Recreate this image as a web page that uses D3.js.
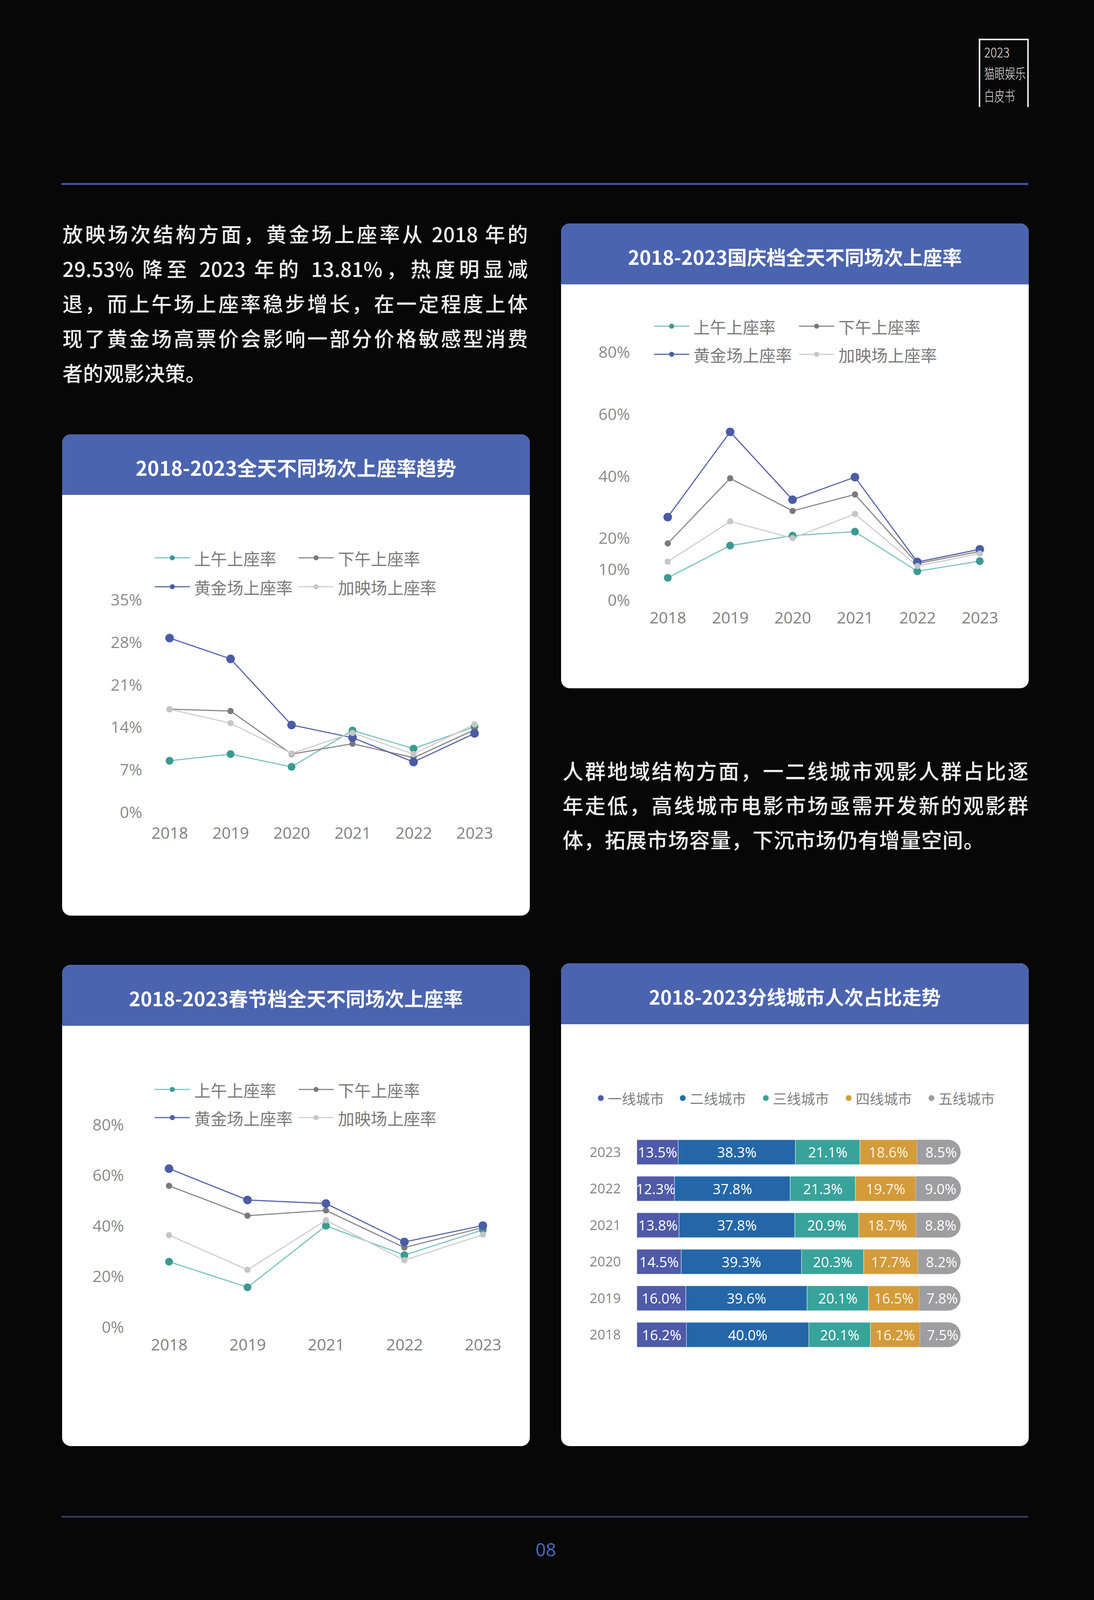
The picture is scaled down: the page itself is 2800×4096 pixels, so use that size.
<!DOCTYPE html>
<html><head><meta charset="utf-8">
<script src="https://cdn.jsdelivr.net/npm/d3@7/dist/d3.min.js"></script>
<style>
html,body{margin:0;padding:0;background:#070707;}
body{position:relative;width:2800px;height:4096px;overflow:hidden;}
svg{display:block;position:absolute;left:0;top:0;}
.pl{position:absolute;color:#efefef;font-family:'Noto Sans CJK SC','Noto Sans',sans-serif;font-weight:500;white-space:normal;line-height:60px;height:60px;}
.pl.j{text-align:justify;text-align-last:justify;text-justify:inter-character;}
</style></head>
<body>
<script>
// ---------- DATA ----------
const seriesNames = ["上午上座率","下午上座率","黄金场上座率","加映场上座率"];

const allDayYears = ["2018","2019","2020","2021","2022","2023"];
const allDayMorning   = [9.3, 10.4, 8.3, 14.3, 11.3, 14.9];
const allDayAfternoon = [17.8, 17.5, 10.4, 12.1, 9.8, 14.4];
const allDayGolden    = [29.53, 26.1, 15.2, 13.1, 9.1, 13.81];
const allDayExtra     = [17.8, 15.5, 10.5, 13.9, 10.4, 15.3];
const allDayTicks = [0, 7, 14, 21, 28, 35];

const nationalYears = ["2018","2019","2020","2021","2022","2023"];
const nationalMorning   = [8.8, 19.2, 22.4, 23.7, 10.9, 14.2];
const nationalAfternoon = [19.9, 40.9, 30.4, 35.7, 13.4, 17.3];
const nationalGolden    = [28.4, 55.9, 34.0, 41.3, 13.9, 18.0];
const nationalExtra     = [14.0, 27.0, 21.6, 29.4, 12.6, 16.6];
const nationalTicks = [0, 10, 20, 40, 60, 80];

const springYears = ["2018","2019","2021","2022","2023"];
const springMorning   = [27.8, 17.7, 42.0, 30.4, 40.4];
const springAfternoon = [57.8, 46.0, 48.1, 33.4, 41.3];
const springGolden    = [64.6, 52.2, 50.8, 35.6, 42.1];
const springExtra     = [38.3, 24.6, 44.2, 28.4, 38.5];
const springTicks = [0, 20, 40, 60, 80];

const tierNames = ["一线城市","二线城市","三线城市","四线城市","五线城市"];
const tierYears = ["2023","2022","2021","2020","2019","2018"];
const tier1 = [13.5, 12.3, 13.8, 14.5, 16.0, 16.2];
const tier2 = [38.3, 37.8, 37.8, 39.3, 39.6, 40.0];
const tier3 = [21.1, 21.3, 20.9, 20.3, 20.1, 20.1];
const tier4 = [18.6, 19.7, 18.7, 17.7, 16.5, 16.2];
const tier5 = [8.5, 9.0, 8.8, 8.2, 7.8, 7.5];

const titles = ["2018-2023全天不同场次上座率趋势","2018-2023国庆档全天不同场次上座率","2018-2023春节档全天不同场次上座率","2018-2023分线城市人次占比走势"];
const para1 = ["放映场次结构方面，黄金场上座率从 2018 年的","29.53% 降至 2023 年的 13.81%，热度明显减","退，而上午场上座率稳步增长，在一定程度上体","现了黄金场高票价会影响一部分价格敏感型消费","者的观影决策。"];
const para2 = ["人群地域结构方面，一二线城市观影人群占比逐","年走低，高线城市电影市场亟需开发新的观影群","体，拓展市场容量，下沉市场仍有增量空间。"];
const logoLines = ["2023","猫眼娱乐","白皮书"];
const pageNumber = "08";

// ---------- STYLE ----------
const W = 2800, H = 4096;
const CJK = "'Noto Sans CJK SC','Noto Sans',sans-serif";
const NUM = "'Open Sans','Noto Sans CJK SC',sans-serif";
const headerBlue = "#4b64af";
const seriesLine = ["#7cc4bf","#8a8a8a","#5a66aa","#cfcfcf"];
const seriesDot  = ["#3a9a92","#7a7a7a","#4a5ca8","#c6c6c6"];
const seriesR    = [10, 8, 11, 8];
const tierColors = ["#4f5aa8","#2467a8","#38a39b","#d39b3a","#9e9ea0"];

const svg = d3.select("body").append("svg").attr("width", W).attr("height", H);
svg.append("rect").attr("width", W).attr("height", H).attr("fill", "#070707");

// top & bottom rules
svg.append("line").attr("x1",157).attr("x2",2632).attr("y1",471).attr("y2",471)
  .attr("stroke","#4354a0").attr("stroke-width",5);
svg.append("line").attr("x1",157).attr("x2",2632).attr("y1",3883).attr("y2",3883)
  .attr("stroke","#363f72").attr("stroke-width",4);
svg.append("text").attr("x",1397).attr("y",3966).attr("text-anchor","middle")
  .attr("dominant-baseline","central").attr("fill","#4d6ac0")
  .style("font-family",NUM).style("font-size","46px").text(pageNumber);

// logo
svg.append("path").attr("d","M2507,274 V101 H2631 V274").attr("fill","none")
  .attr("stroke","#e6e6e6").attr("stroke-width",4);
const logoCfg = [{y:131,w:65,fs:35},{y:186,w:106,fs:36},{y:244,w:78,fs:37}];
logoLines.forEach((t,i)=>{
  svg.append("text").attr("x",2519).attr("y",logoCfg[i].y).attr("dominant-baseline","central")
    .attr("textLength",logoCfg[i].w).attr("lengthAdjust","spacingAndGlyphs")
    .attr("fill","#e6e6e6").style("font-family",CJK).style("font-weight",300)
    .style("font-size",logoCfg[i].fs+"px").text(t);
});

// paragraphs (HTML text, each line justified to the column width except the last)
function paragraph(lines, x, yc0, lh, fs, width, ls) {
  lines.forEach((t,i)=>{
    const last = i === lines.length-1;
    d3.select("body").append("div").attr("class", last ? "pl" : "pl j")
      .style("left", x+"px").style("top", (yc0 + i*lh - 33)+"px")
      .style("width", width+"px").style("font-size", fs+"px")
      .style("letter-spacing", last ? ls+"px" : "0px")
      .text(t);
  });
}
paragraph(para1, 160, 601, 89, 52, 1191, 0.5);
paragraph(para2, 1440, 1975, 88, 53, 1192, 1);

// cards
function card(x,y,w,h,hh,title,fs){
  const r = 22;
  svg.append("rect").attr("x",x).attr("y",y).attr("width",w).attr("height",h).attr("rx",r).attr("fill","#ffffff");
  svg.append("path").attr("d",`M${x},${y+hh} V${y+r} A${r},${r} 0 0 1 ${x+r},${y} H${x+w-r} A${r},${r} 0 0 1 ${x+w},${y+r} V${y+hh} Z`)
    .attr("fill",headerBlue);
  svg.append("text").attr("x",x+w/2).attr("y",y+hh/2+6).attr("text-anchor","middle").attr("dominant-baseline","central")
    .attr("fill","#ffffff").style("font-family",CJK).style("font-weight",700).style("font-size",fs+"px").text(title);
}
card(159,1112,1197,1232,155,titles[0],51);
card(1436,572,1197,1190,156,titles[1],50);
card(159,2470,1197,1232,156,titles[2],50);
card(1436,2466,1197,1236,156,titles[3],49.5);

// line charts
function lineChart(cfg){
  const g = svg.append("g");
  const x = d3.scalePoint().domain(cfg.years).range(cfg.xRange);
  const y = d3.scaleLinear().domain([0,cfg.yMax]).range([cfg.y0,cfg.yTop]);

  const ya = g.append("g").attr("transform",`translate(${cfg.labelRight},0)`)
    .call(d3.axisLeft(y).tickValues(cfg.ticks).tickSize(0).tickPadding(0).tickFormat(d=>d+"%"));
  ya.select(".domain").remove();
  ya.selectAll("text").attr("y",-13).attr("dy","0.35em").attr("fill","#8a8a8a")
    .style("font-family",NUM).style("font-size","41px");

  const xa = g.append("g").attr("transform",`translate(0,${cfg.xLabelY})`)
    .call(d3.axisBottom(x).tickSize(0).tickPadding(0));
  xa.select(".domain").remove();
  xa.selectAll("text").attr("y",0).attr("dy","0.35em").attr("fill","#808080")
    .style("font-family",NUM).style("font-size","41px");

  const line = d3.line().x((d,j)=>x(cfg.years[j])).y(d=>y(d));
  cfg.series.forEach((vals,i)=>{
    g.append("path").datum(vals).attr("d",line).attr("fill","none")
      .attr("stroke",seriesLine[i]).attr("stroke-width",3);
  });
  cfg.series.forEach((vals,i)=>{
    g.selectAll(null).data(vals).enter().append("circle")
      .attr("cx",(d,j)=>x(cfg.years[j])).attr("cy",d=>y(d)).attr("r",seriesR[i])
      .attr("fill",seriesDot[i]);
  });

  // legend
  const lg = g.append("g");
  seriesNames.forEach((name,i)=>{
    const lx = cfg.legendCols[i%2], ly = cfg.legendRows[Math.floor(i/2)];
    lg.append("line").attr("x1",lx).attr("x2",lx+90).attr("y1",ly).attr("y2",ly)
      .attr("stroke",seriesLine[i]).attr("stroke-width",3);
    lg.append("circle").attr("cx",lx+45).attr("cy",ly).attr("r",6.5).attr("fill",seriesDot[i]);
    lg.append("text").attr("x",lx+101).attr("y",ly).attr("dominant-baseline","central")
      .attr("fill","#7a7a7a").style("font-family",CJK).style("font-size","42px").text(name);
  });
}

lineChart({years:allDayYears, series:[allDayMorning,allDayAfternoon,allDayGolden,allDayExtra],
  ticks:allDayTicks, yMax:35, xRange:[434,1214.5], y0:2092, yTop:1548.5, labelRight:364, xLabelY:2133,
  legendRows:[1428,1502], legendCols:[396,764]});
lineChart({years:nationalYears, series:[nationalMorning,nationalAfternoon,nationalGolden,nationalExtra],
  ticks:nationalTicks, yMax:80, xRange:[1709,2507.6], y0:1549, yTop:914.5, labelRight:1612.5, xLabelY:1582,
  legendRows:[835,907], legendCols:[1674,2045]});
lineChart({years:springYears, series:[springMorning,springAfternoon,springGolden,springExtra],
  ticks:springTicks, yMax:80, xRange:[432.6,1235.8], y0:3410, yTop:2892, labelRight:317.5, xLabelY:3443,
  legendRows:[2789,2861], legendCols:[396,764]});

// stacked bar chart
(function(){
  const g = svg.append("g");
  const tiers = [tier1,tier2,tier3,tier4,tier5];
  const x = d3.scaleLinear().domain([0,100]).range([1630,1630+783.5]);
  const y = d3.scaleBand().domain(tierYears).range([2902.75,3463.75]).paddingInner(0.32).paddingOuter(0.16);
  const bh = y.bandwidth(), rr = bh/2, ext = 45;

  // legend
  const legendDotX = [1537.6,1747.4,1960,2172,2384];
  tierNames.forEach((n,i)=>{
    g.append("circle").attr("cx",legendDotX[i]).attr("cy",2811).attr("r",7.5).attr("fill",tierColors[i]);
    g.append("text").attr("x",legendDotX[i]+18).attr("y",2811).attr("dominant-baseline","central")
      .attr("fill","#808080").style("font-family",CJK).style("font-size","36px").text(n);
  });

  // year labels
  const ya = g.append("g").attr("transform","translate(1589,0)")
    .call(d3.axisLeft(y).tickSize(0).tickPadding(0));
  ya.select(".domain").remove();
  ya.selectAll("text").attr("dy","0.35em").attr("fill","#858585")
    .style("font-family",NUM).style("font-size","35px");

  tierYears.forEach((yr,row)=>{
    let cum = 0;
    const y0 = y(yr);
    tiers.forEach((arr,k)=>{
      const v = arr[row];
      const x0 = x(cum), x1 = x(cum+v);
      cum += v;
      let cx;
      if (k < tiers.length-1) {
        g.append("rect").attr("x",x0).attr("y",y0).attr("width",x1-x0).attr("height",bh)
          .attr("fill",tierColors[k]).attr("stroke","rgba(255,255,255,0.55)").attr("stroke-width",1.5);
        cx = (x0+x1)/2;
      } else {
        const xe = x1+ext;
        g.append("path").attr("d",`M${x0},${y0} H${xe-rr} A${rr},${rr} 0 0 1 ${xe-rr},${y0+bh} H${x0} Z`)
          .attr("fill",tierColors[k]);
        cx = (x0+xe)/2 + 6;
      }
      g.append("text").attr("x",cx).attr("y",y0+bh/2).attr("text-anchor","middle").attr("dominant-baseline","central")
        .attr("fill", k===3 ? "#fbf3e2" : "#ffffff").style("font-family",NUM).style("font-size","36px")
        .text(v.toFixed(1)+"%");
    });
  });
})();
</script>
</body></html>
